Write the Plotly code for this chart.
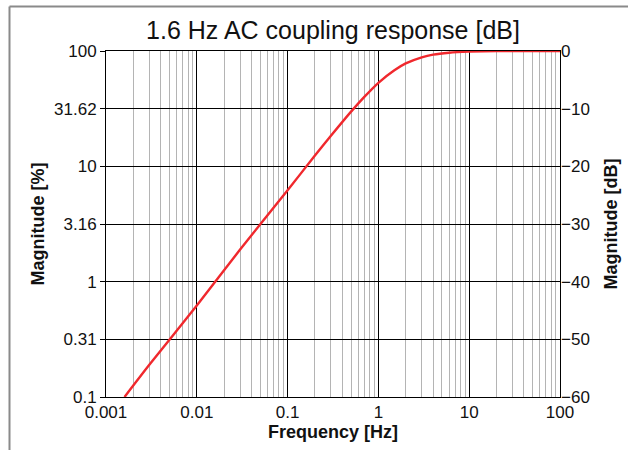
import plotly.graph_objects as go

# Data
freq_hz = [0.0016, 0.003, 0.01, 0.03, 0.1, 0.2, 0.3, 0.5, 0.7, 1.0, 1.5, 2.0, 3.0, 4.0, 6.0, 10.0, 20.0, 50.0, 100.0]
magnitude_pct = [0.1, 0.19, 0.62, 1.9, 6.2, 12.4, 18.4, 29.8, 40.0, 53.0, 68.0, 78.0, 88.0, 93.0, 96.6, 98.7, 99.7, 99.95, 100.0]

x_tick_vals = [0.001, 0.01, 0.1, 1, 10, 100]
x_tick_text = ["0.001", "0.01", "0.1", "1", "10", "100"]
x_minor_vals = [m * d for d in [0.001, 0.01, 0.1, 1, 10] for m in range(2, 10)]
y_tick_vals = [0.1, 0.31623, 1, 3.1623, 10, 31.623, 100]
y_tick_text = ["0.1", "0.31", "1", "3.16", "10", "31.62", "100"]
db_tick_vals = [-60, -50, -40, -30, -20, -10, 0]

FONT = "Liberation Sans, Arial, sans-serif"

fig = go.Figure()
fig.add_trace(go.Scatter(
    x=freq_hz, y=magnitude_pct, mode="lines",
    line=dict(color="#f0282d", width=2.4, shape="spline", smoothing=0.6),
    showlegend=False, hoverinfo="skip",
))
# invisible trace to activate the dB axis
fig.add_trace(go.Scatter(x=[0.001, 100], y=[-60, 0], yaxis="y2", mode="lines",
                         line=dict(width=0), opacity=0, showlegend=False, hoverinfo="skip"))

W, H = 628, 450
L, R, T, B = 106, 68, 51, 53
pw, ph = W - L - R, H - T - B

def px_x(px):
    return (px - L) / pw

def px_y(py):
    return (H - B - py) / ph

fig.update_layout(
    width=W, height=H,
    margin=dict(l=L, r=R, t=T, b=B, pad=0),
    paper_bgcolor="white", plot_bgcolor="white",
    font=dict(family=FONT, color="#111111", size=17),
    title=dict(text="1.6 Hz AC coupling response [dB]", x=0.5, xref="paper", xanchor="center",
               y=1 - 30 / H, yanchor="middle", font=dict(size=25, family=FONT, color="#111")),
    xaxis=dict(
        type="log", range=[-3, 2],
        tickvals=x_tick_vals, ticktext=x_tick_text, ticks="",
        showgrid=True, gridcolor="#000000", gridwidth=1,
        minor=dict(showgrid=True, gridcolor="#b4b4b4", gridwidth=1.2,
                   tickvals=x_minor_vals, ticks=""),
        showline=True, linecolor="#000", linewidth=1, mirror=True,
        title=dict(text="<b>Frequency [Hz]</b>", font=dict(size=18), standoff=3),
        tickfont=dict(size=17), zeroline=False,
    ),
    yaxis=dict(
        type="log", range=[-1, 2],
        tickvals=y_tick_vals, ticktext=y_tick_text,
        ticks="outside", ticklen=5, tickcolor="#000",
        showgrid=True, gridcolor="#000000", gridwidth=1,
        showline=True, linecolor="#000", linewidth=1, mirror=True,
        title=dict(text="<b>Magnitude [%]</b>", font=dict(size=18), standoff=4),
        tickfont=dict(size=17), zeroline=False,
    ),
    yaxis2=dict(
        overlaying="y", side="right", range=[-60, 0],
        tickvals=db_tick_vals, ticks="", showgrid=False, zeroline=False,
        title=dict(text="<b>Magnitude [dB]</b>", font=dict(size=18), standoff=15),
        tickfont=dict(size=17),
    ),
    shapes=[
        dict(type="line", xref="paper", yref="paper",
             x0=px_x(9.5), x1=px_x(640), y0=px_y(6.5), y1=px_y(6.5),
             line=dict(color="#8a8a8a", width=2)),
        dict(type="line", xref="paper", yref="paper",
             x0=px_x(9.5), x1=px_x(9.5), y0=px_y(6.5), y1=px_y(460),
             line=dict(color="#8a8a8a", width=2)),
    ],
)

fig.write_html("out.html")
